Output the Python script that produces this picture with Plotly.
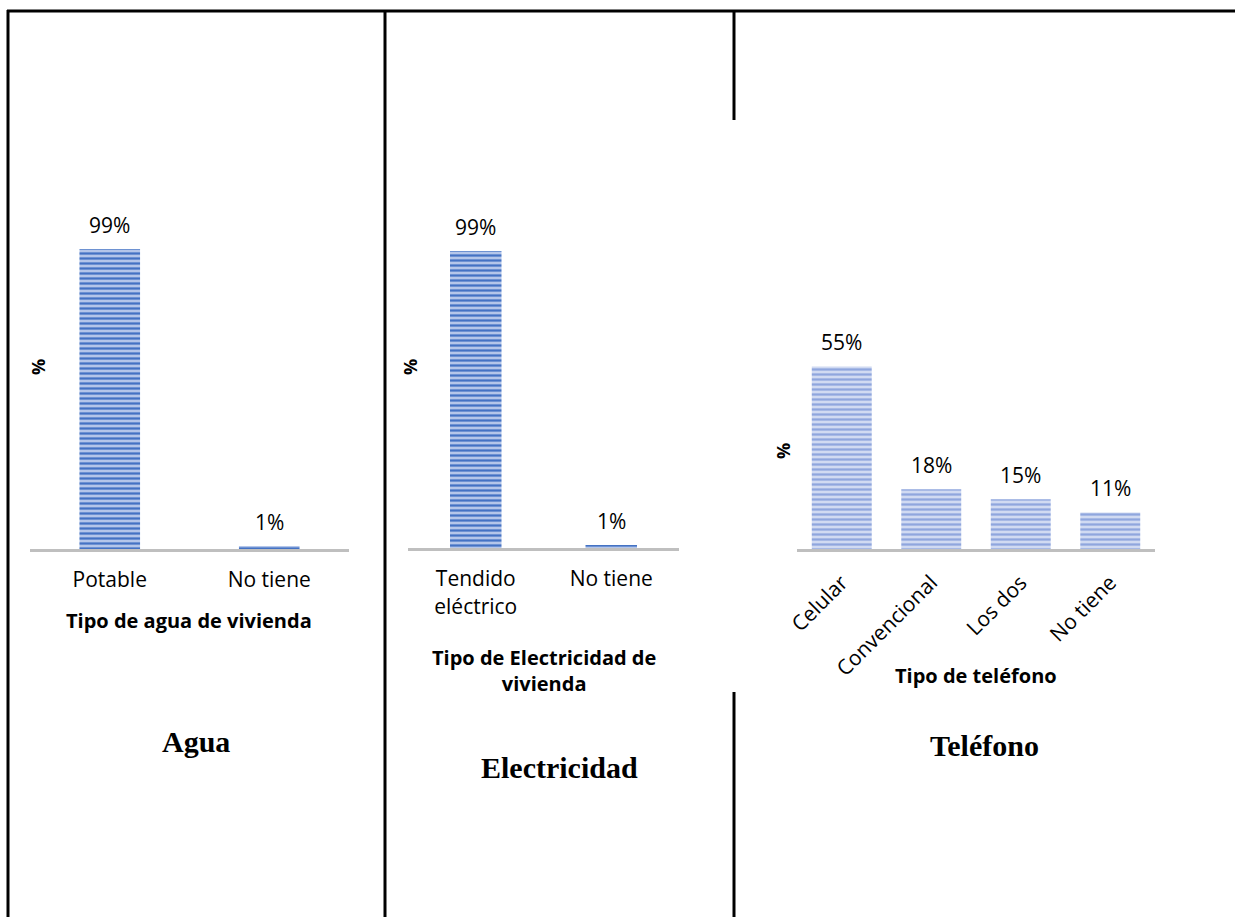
import plotly.graph_objects as go

W, H = 1235, 917

# ---- data ----
agua_cats = ["Potable", "No tiene"]
agua_vals = [99, 1]
elec_cats = ["Tendido<br>eléctrico", "No tiene"]
elec_vals = [99, 1]
tel_cats = ["Celular", "Convencional", "Los dos", "No tiene"]
tel_vals = [55, 18, 15, 11]

panel_titles = ["Agua", "Electricidad", "Teléfono"]
x_titles = ["Tipo de agua de vivienda", "Tipo de Electricidad de<br>vivienda", "Tipo de teléfono"]
y_title = "%"

FONT = "'Open Sans', Carlito, Lato, sans-serif"


def px(x):
    return x / W


def py(y):
    return 1 - y / H


fig = go.Figure()

panels = [
    dict(cats=agua_cats, vals=agua_vals, ax="", x0=30, x1=349, y0=549, top=246,
         fg="#4472C4", bg="#B4C6EA", width=0.38, angle=0),
    dict(cats=elec_cats, vals=elec_vals, ax="2", x0=408, x1=679, y0=548, top=248,
         fg="#4472C4", bg="#B4C6EA", width=0.38, angle=0),
    dict(cats=tel_cats, vals=tel_vals, ax="3", x0=797, x1=1155, y0=549, top=217,
         fg="#8FA6DE", bg="#D0DAF2", width=0.67, angle=-45),
]

annotations = []
for p in panels:
    xa = "x" + p["ax"]
    ya = "y" + p["ax"]
    fig.add_trace(go.Bar(
        x=p["cats"], y=[v / 100 for v in p["vals"]],
        xaxis=xa, yaxis=ya, width=p["width"],
        marker=dict(color=p["bg"], line=dict(width=0),
                    pattern=dict(shape="-", fgcolor=p["fg"], bgcolor=p["bg"],
                                 fgopacity=1, size=5, solidity=0.45, fillmode="overlay")),
        showlegend=False, hoverinfo="skip",
    ))
    for c, v in zip(p["cats"], p["vals"]):
        annotations.append(dict(x=c, y=v / 100, xref=xa, yref=ya, text=f"{v}%",
                                showarrow=False, yshift=24, yanchor="middle", xanchor="center",
                                font=dict(family=FONT, size=21, color="#000000")))
    layout_x = dict(domain=[px(p["x0"]), px(p["x1"])], anchor=ya, showline=True,
                    linecolor="#BFBFBF", linewidth=3, showgrid=False, zeroline=False,
                    automargin=False,
                    ticks="outside", ticklen=10, tickcolor="rgba(0,0,0,0)",
                    tickangle=p["angle"],
                    tickfont=dict(family=FONT, size=21, color="#000000"))
    layout_y = dict(domain=[py(p["y0"]), py(p["top"])], anchor=xa, range=[0, 1],
                    visible=False, showgrid=False, zeroline=False, automargin=False)
    fig.update_layout(**{"xaxis" + p["ax"]: layout_x, "yaxis" + p["ax"]: layout_y})

# y titles
for (x, y) in [(38, 367), (410, 367), (783, 451)]:
    annotations.append(dict(x=px(x), y=py(y), xref="paper", yref="paper", text=f"<b>{y_title}</b>",
                            showarrow=False, textangle=-90, xanchor="center", yanchor="middle",
                            font=dict(family=FONT, size=18, color="#000000")))

# x titles
for t, (x, y) in zip(x_titles, [(189, 620), (544, 670), (976, 675)]):
    annotations.append(dict(x=px(x), y=py(y), xref="paper", yref="paper", text=f"<b>{t}</b>",
                            showarrow=False, align="center", xanchor="center", yanchor="middle",
                            font=dict(family=FONT, size=20, color="#000000")))

# panel titles
for t, (x, y) in zip(panel_titles, [(196, 741), (559, 767), (984, 745)]):
    annotations.append(dict(x=px(x), y=py(y), xref="paper", yref="paper", text=f"<b>{t}</b>",
                            showarrow=False, xanchor="center", yanchor="middle",
                            font=dict(family="'Liberation Serif', 'Times New Roman', serif",
                                      size=30, color="#000000")))

shapes = []
line = dict(color="#000000", width=3)
for (x0, y0, x1, y1) in [(7, 11, 1235, 11), (8, 10, 8, 917), (385, 10, 385, 917),
                         (734, 11, 734, 120), (734, 692, 734, 917)]:
    shapes.append(dict(type="line", xref="paper", yref="paper",
                       x0=px(x0), y0=py(y0), x1=px(x1), y1=py(y1), line=line))

fig.update_layout(
    template="none",
    width=W, height=H, autosize=False, margin=dict(l=0, r=0, t=0, b=0, pad=0, autoexpand=False),
    paper_bgcolor="white", plot_bgcolor="white",
    annotations=annotations, shapes=shapes,
    font=dict(family=FONT),
)

post = (
    "document.body.style.margin='0';"
    "document.body.style.overflow='hidden';"
)
fig.write_html("out.html", config={"displayModeBar": False},
               post_script=post)
